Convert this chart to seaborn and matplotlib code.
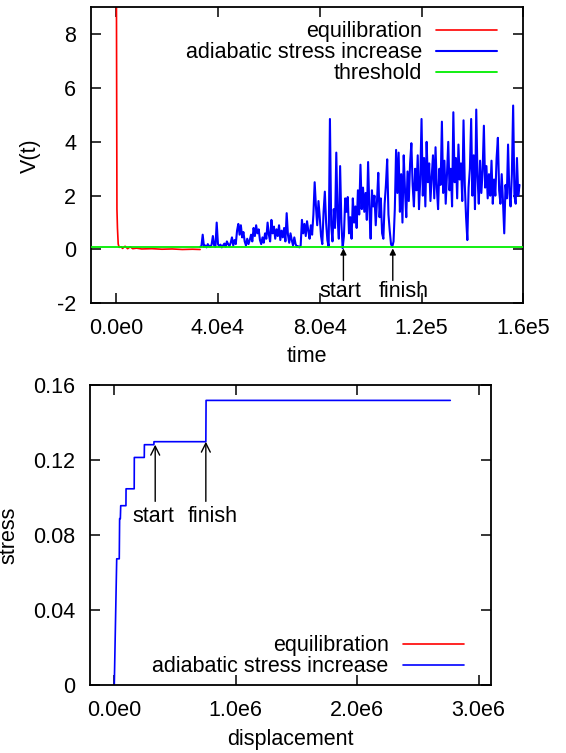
import numpy as np
import matplotlib
matplotlib.use("Agg")
import matplotlib.pyplot as plt
import seaborn as sns

# ---------------- data: top panel (V(t) vs time) ----------------
equil_time = [0, 100, 300, 500, 800, 1200, 2000, 2500, 3500, 4500, 5500, 6500,
              8000, 10000, 14000, 18000, 22000, 26000, 30000, 33000]
equil_v = [30.0, 9.5, 1.5, 0.8, 0.2, 0.08, 0.10, 0.04, 0.12, 0.03, 0.10, 0.03,
           0.05, 0.02, 0.03, 0.01, 0.02, 0.00, 0.01, 0.00]

adia_t0 = 33000      # first sample time of the adiabatic run
adia_dt = 500        # sampling interval
adia_v = [
    # 33000 - 72500
    0.10, 0.12, 0.55, 0.10, 0.15, 0.08, 0.20, 0.12, 0.10, 0.18,
    0.50, 0.15, 0.10, 1.00, 0.20, 0.12, 0.18, 0.08, 0.15, 0.22,
    0.10, 0.30, 0.20, 0.12, 0.25, 0.45, 0.15, 0.35, 0.20, 0.70,
    0.95, 0.55, 0.90, 0.45, 0.65, 0.30, 0.15, 0.40, 0.20, 0.35,
    0.55, 0.30, 0.80, 0.50, 0.90, 0.60, 0.75, 0.35, 0.20, 0.45,
    0.25, 0.60, 0.40, 1.00, 0.55, 0.30, 1.10, 0.60, 0.85, 0.40,
    0.75, 0.50, 0.90, 0.35, 0.70, 0.45, 0.80, 0.30, 1.35, 0.55,
    0.25, 0.60, 0.35, 0.15, 0.45, 0.20, 0.10, 0.12, 0.08, 0.15,
    # 73000 - 110000
    1.10, 0.60, 0.95, 0.50, 1.05, 0.70, 0.40, 0.90, 0.55, 1.30,
    2.50, 1.60, 0.90, 1.80, 1.20, 0.50, 0.20, 1.40, 2.15, 1.00,
    0.35, 0.10, 4.85, 0.90, 0.30, 1.50, 0.80, 3.60, 1.20, 0.40,
    3.10, 1.00, 0.05, 0.50, 1.90, 1.40, 1.95, 0.60, 1.20, 0.40,
    1.90, 1.00, 1.60, 0.80, 2.20, 1.30, 3.15, 1.50, 2.30, 1.40,
    2.10, 1.10, 3.25, 1.50, 0.40, 2.20, 1.60, 2.00, 0.90, 1.80,
    2.85, 1.20, 1.90, 0.60, 0.40, 1.70, 2.40, 3.35, 1.30, 0.70,
    0.20, 0.10, 0.30, 1.50, 3.70,
    # 110500 - 158500
    2.10, 3.60, 1.40, 2.80, 1.00, 3.50, 2.20, 1.20, 2.90, 1.80,
    3.20, 3.95, 2.40, 1.60, 3.00, 2.20, 3.50, 1.50, 2.60, 4.85,
    2.00, 3.40, 1.60, 4.00, 2.50, 3.20, 1.80, 2.70, 3.50, 1.90,
    3.80, 2.30, 1.50, 3.00, 2.40, 4.75, 2.10, 3.30, 1.70, 2.80,
    4.00, 2.20, 3.00, 1.60, 5.10, 2.50, 3.40, 1.90, 3.90, 2.60,
    3.20, 1.80, 4.80, 2.40, 1.20, 0.35, 2.30, 3.00, 4.85, 2.00,
    3.50, 1.50, 5.20, 2.70, 1.70, 3.30, 2.10, 2.90, 4.60, 2.30,
    3.10, 1.90, 2.80, 2.00, 3.30, 1.70, 2.60, 2.00, 3.40, 4.15,
    2.20, 1.70, 2.80, 1.80, 0.60, 2.40, 1.90, 3.90, 2.10, 1.60,
    2.80, 5.35, 2.00, 1.70, 3.40, 2.00, 2.40,
]
adia_time = adia_t0 + adia_dt * np.arange(len(adia_v))

threshold_v = 0.1

top_xticks = [0, 40000, 80000, 120000, 160000]
top_xticklabels = ["0.0e0", "4.0e4", "8.0e4", "1.2e5", "1.6e5"]
top_yticks = [-2, 0, 2, 4, 6, 8]
top_yticklabels = ["-2", "0", "2", "4", "6", "8"]

top_start_t, top_finish_t = 89300, 108700

# ---------------- data: bottom panel (stress vs displacement) ----------------
disp = [0, 20000, 41000, 44000, 50000, 53000, 96000, 97000, 164000, 165000,
        247000, 248000, 326000, 327000, 754000, 756000, 2767000]
stress = [0.0, 0.0674, 0.0674, 0.0888, 0.0888, 0.0957, 0.0957, 0.1047, 0.1047,
          0.1214, 0.1214, 0.1282, 0.1282, 0.1298, 0.1298, 0.1518, 0.1518]

bot_xticks = [0, 1e6, 2e6, 3e6]
bot_xticklabels = ["0.0e0", "1.0e6", "2.0e6", "3.0e6"]
bot_yticks = [0, 0.04, 0.08, 0.12, 0.16]
bot_yticklabels = ["0", "0.04", "0.08", "0.12", "0.16"]

bot_start_d, bot_finish_d = 337000, 754000

# ---------------- style ----------------
sns.set_style("ticks")
plt.rcParams["font.family"] = ["Liberation Sans", "DejaVu Sans"]
plt.rcParams["text.color"] = "black"
plt.rcParams["axes.labelcolor"] = "black"
plt.rcParams["xtick.color"] = "black"
plt.rcParams["ytick.color"] = "black"
FS = 15.5
RED, BLUE, GREEN = "#ff0000", "#0000ff", "#00ee00"

fig = plt.figure(figsize=(5.66, 7.53), dpi=100)
ax1 = fig.add_axes([0.1603, 0.5972, 0.7643, 0.3931])
ax2 = fig.add_axes([0.1590, 0.0899, 0.7080, 0.3988])


def style_axes(ax):
    for s in ax.spines.values():
        s.set_linewidth(1.3)
        s.set_color("black")
        s.set_visible(True)
    ax.tick_params(which="both", direction="in", length=7.2, width=1.1,
                   top=True, right=True, labelsize=FS, pad=10.5,
                   colors="black")
    ax.grid(False)


# ---- top panel ----
sns.lineplot(x=equil_time, y=equil_v, color=RED, linewidth=1.2,
             estimator=None, sort=False, label="equilibration", ax=ax1)
sns.lineplot(x=adia_time, y=adia_v, color=BLUE, linewidth=1.5,
             estimator=None, sort=False, label="adiabatic stress increase", ax=ax1)
ax1.axhline(threshold_v, color=GREEN, linewidth=1.3, label="threshold", zorder=5)

ax1.set_xlim(-10000, 160000)
ax1.set_ylim(-2, 9)
ax1.set_xticks(top_xticks)
ax1.set_xticklabels(top_xticklabels)
ax1.set_yticks(top_yticks)
ax1.set_yticklabels(top_yticklabels)
style_axes(ax1)
ax1.set_xlabel("time", fontsize=FS, va="center", color="black")
ax1.set_ylabel("V(t)", fontsize=FS, va="center", color="black")
ax1.xaxis.set_label_coords(0.5, -0.181)
ax1.yaxis.set_label_coords(-0.139, 0.5)

for tx in (top_start_t, top_finish_t):
    ax1.annotate("", xy=(tx, 0.04), xytext=(tx, -1.15),
                 arrowprops=dict(arrowstyle="-|>", color="black", lw=1.0,
                                 mutation_scale=9, shrinkA=0, shrinkB=0))
ax1.text(88300, -1.55, "start", fontsize=FS, ha="center", va="center", color="black")
ax1.text(113100, -1.55, "finish", fontsize=FS, ha="center", va="center", color="black")

leg1 = ax1.legend(loc="upper right", bbox_to_anchor=(0.940, 0.9525),
                  frameon=False, markerfirst=False, fontsize=FS,
                  handlelength=2.84, handletextpad=0.66, labelspacing=0.0,
                  borderpad=0, borderaxespad=0, labelcolor="black")

# ---- bottom panel ----
ax2.plot([], [], color=RED, linewidth=1.2, label="equilibration")
sns.lineplot(x=disp, y=stress, color=BLUE, linewidth=1.2, estimator=None,
             sort=False, label="adiabatic stress increase", ax=ax2)
ax2.set_xlim(-200000, 3100000)
ax2.set_ylim(0, 0.16)
ax2.set_xticks(bot_xticks)
ax2.set_xticklabels(bot_xticklabels)
ax2.set_yticks(bot_yticks)
ax2.set_yticklabels(bot_yticklabels)
style_axes(ax2)
ax2.set_xlabel("displacement", fontsize=FS, va="center", color="black")
ax2.set_ylabel("stress", fontsize=FS, va="center", color="black")
ax2.xaxis.set_label_coords(0.5, -0.182)
ax2.yaxis.set_label_coords(-0.202, 0.5)

for dx, top in ((bot_start_d, 0.1282), (bot_finish_d, 0.1298)):
    ax2.annotate("", xy=(dx, top), xytext=(dx, 0.098),
                 arrowprops=dict(arrowstyle="->", color="black", lw=1.0,
                                 mutation_scale=16, shrinkA=0, shrinkB=0))
ax2.text(325000, 0.090, "start", fontsize=FS, ha="center", va="center", color="black")
ax2.text(810000, 0.090, "finish", fontsize=FS, ha="center", va="center", color="black")

leg2 = ax2.legend(loc="upper right", bbox_to_anchor=(0.933, 0.166),
                  frameon=False, markerfirst=False, fontsize=FS,
                  handlelength=2.84, handletextpad=0.66, labelspacing=0.0,
                  borderpad=0, borderaxespad=0, labelcolor="black")

fig.savefig("out.png", dpi=100)
